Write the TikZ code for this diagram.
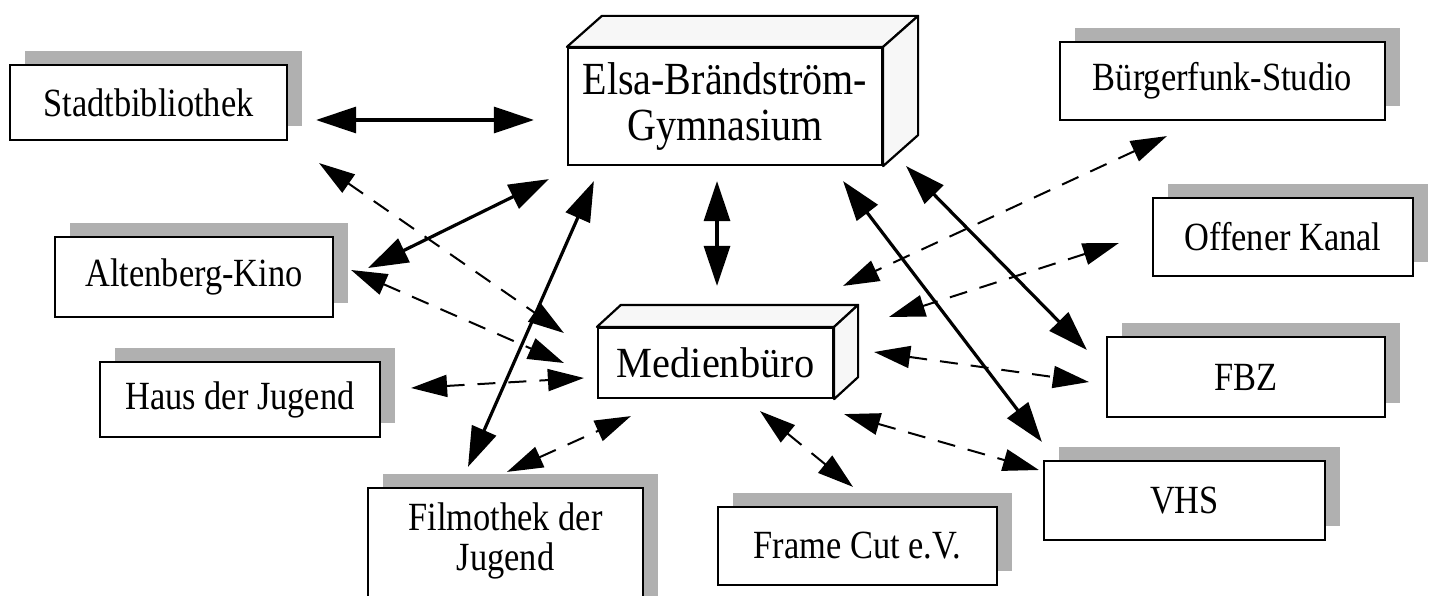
\documentclass[tikz,border=0pt]{standalone}
\usepackage{fontspec}
\setmainfont{Liberation Serif}
\newfontfamily\outerfont[FakeStretch=0.86]{Liberation Serif}
\newfontfamily\gymfont[FakeStretch=0.87]{Liberation Serif}
\newfontfamily\medfont[FakeStretch=0.94]{Liberation Serif}
\usetikzlibrary{arrows.meta,shadows}
\begin{document}
\begin{tikzpicture}[x=1pt,y=-1pt,
  obox/.style={draw, line width=2.2pt, fill=white, inner sep=0pt,
    font=\outerfont\fontsize{40}{40}\selectfont,
    drop shadow={shadow xshift=15pt, shadow yshift=14pt, fill=gray!62, opacity=1}},
  cbox/.style={draw, line width=2.2pt, fill=white, inner sep=0pt, align=center},
  face/.style={draw, line width=2.2pt, fill=gray!6, line join=round},
  solidarr/.style={line width=3.2pt, {Triangle[length=40pt,width=26pt]}-{Triangle[length=40pt,width=26pt]}},
  dasharr/.style={line width=2pt, dash pattern=on 18pt off 13pt, {Triangle[length=36pt,width=22pt]}-{Triangle[length=36pt,width=22pt]}}
]
\useasboundingbox (0,0) rectangle (1433,596);

% outer boxes
\node[obox, minimum width=277pt, minimum height=75pt] (stadt) at (148.5,102.5) {Stadtbibliothek};
\node[obox, minimum width=278pt, minimum height=80pt] (kino) at (194,277) {Altenberg-Kino};
\node[obox, minimum width=280pt, minimum height=75pt] (haus) at (240,399.5) {Haus der Jugend};
\node[obox, minimum width=275pt, minimum height=137pt] (film) at (505.5,556.5) {};
\node[font=\outerfont\fontsize{40}{40}\selectfont, align=center, inner sep=0pt] (filmtext) at (505.5,541) {Filmothek der\\Jugend};
\node[obox, minimum width=279pt, minimum height=78pt] (frame) at (857.5,546) {Frame Cut e.V.};
\node[obox, minimum width=325pt, minimum height=78pt] (buerger) at (1222.5,81) {Bürgerfunk-Studio};
\node[obox, minimum width=260pt, minimum height=78pt] (offen) at (1283,237) {Offener Kanal};
\node[obox, minimum width=278pt, minimum height=80pt] (fbz) at (1246,377) {FBZ};
\node[obox, minimum width=281pt, minimum height=79pt] (vhs) at (1184.5,500.5) {VHS};

% 3D boxes
\node[cbox, font=\gymfont\fontsize{46}{46}\selectfont, minimum width=314pt, minimum height=117pt] (gym) at (725,106.5) {Elsa-Brändström-\\Gymnasium};
\draw[face] (gym.north west) -- ++(35,-31) -- ([shift={(35,-31)}]gym.north east) -- (gym.north east) -- cycle;
\draw[face] (gym.north east) -- ++(35,-31) -- ([shift={(35,-31)}]gym.south east) -- (gym.south east) -- cycle;

\node[cbox, font=\medfont\fontsize{43}{43}\selectfont, minimum width=235pt, minimum height=70pt] (medien) at (715.5,363) {Medienbüro};
\draw[face] (medien.north west) -- ++(24,-22) -- ([shift={(24,-22)}]medien.north east) -- (medien.north east) -- cycle;
\draw[face] (medien.north east) -- ++(24,-22) -- ([shift={(24,-22)}]medien.south east) -- (medien.south east) -- cycle;

% solid arrows
\draw[solidarr] ([shift={(28,17.5)}]stadt.east) -- ([shift={(-33,13.5)}]gym.west);
\draw[solidarr] ([shift={(34,-9)}]kino.east) -- ([shift={(-18,13)}]gym.south west);
\draw[solidarr] ([shift={(-37.5,-20)}]film.north) -- ([shift={(27,15)}]gym.south west);
\draw[solidarr] ([shift={(-8,15)}]gym.south) -- ([shift={(1.5,-41)}]medien.north);
\draw[solidarr] ([shift={(-40,15)}]gym.south east) -- ([shift={(-1,-18)}]vhs.north west);
\draw[solidarr] ([shift={(23,0)}]gym.south east) -- ([shift={(-19,-27)}]fbz.west);

% dashed arrows
\draw[dasharr] ([shift={(31,22)}]stadt.south east) -- ([shift={(-33,-30)}]medien.west);
\draw[dasharr] ([shift={(17,-7)}]kino.east) -- ([shift={(-33,0)}]medien.west);
\draw[dasharr] ([shift={(30,-11.5)}]haus.east) -- ([shift={(-13,15)}]medien.west);
\draw[dasharr] ([shift={(1.5,-15)}]film.north) -- ([shift={(34,17)}]medien.south west);
\draw[dasharr] ([shift={(44.5,12)}]medien.south) -- ([shift={(-4.5,-19)}]frame.north);
\draw[dasharr] ([shift={(10,15)}]medien.south east) -- ([shift={(-4,-30.5)}]vhs.west);
\draw[dasharr] ([shift={(40,-11)}]medien.east) -- ([shift={(-17,5)}]fbz.west);
\draw[dasharr] ([shift={(108,15)}]buerger.south west) -- ([shift={(9,-41)}]medien.north east);
\draw[dasharr] ([shift={(-33,6)}]offen.west) -- ([shift={(55,-10)}]medien.north east);
\end{tikzpicture}
\end{document}
